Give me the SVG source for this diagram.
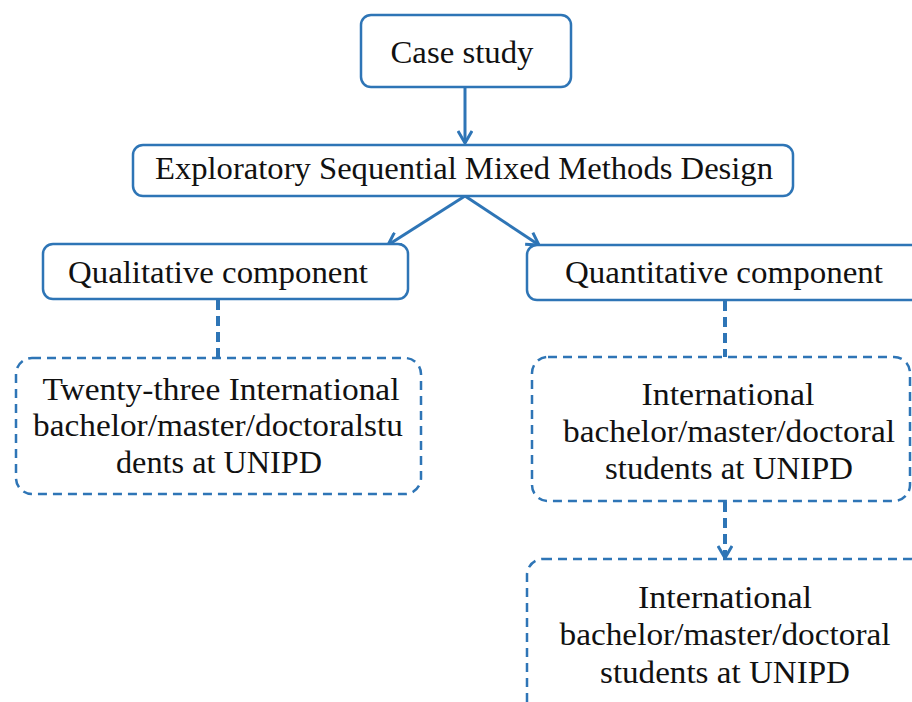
<svg xmlns="http://www.w3.org/2000/svg" width="912" height="702" viewBox="0 0 912 702">
  <style>
    .box { fill: #ffffff; stroke: #2e75b6; stroke-width: 2.5; }
    .dbox { fill: #ffffff; stroke: #2e75b6; stroke-width: 2.5; stroke-dasharray: 9 6; }
    .link { fill: none; stroke: #2e75b6; stroke-width: 3; }
    .dlink { fill: none; stroke: #2e75b6; stroke-width: 4; stroke-dasharray: 10 6; }
    .lbl { font-size: 31px; fill: #111111; text-anchor: middle; }
  </style>
  <defs>
    <marker id="chev" viewBox="0 0 16 16" refX="14" refY="8" markerWidth="16" markerHeight="16" markerUnits="userSpaceOnUse" orient="auto">
      <path d="M2,1 L14,8 L2,15" fill="none" stroke="#2e75b6" stroke-width="3" stroke-linejoin="miter"/>
    </marker>
  </defs>
  <rect width="912" height="702" fill="#ffffff"/>

  <g id="connectors">
    <line class="link" x1="465" y1="87" x2="465" y2="143" marker-end="url(#chev)"/>
    <line class="link" x1="465" y1="196" x2="388" y2="245" marker-end="url(#chev)"/>
    <line class="link" x1="465" y1="196" x2="539" y2="245" marker-end="url(#chev)"/>
    <line class="dlink" x1="218" y1="300" x2="218" y2="358"/>
    <line class="dlink" x1="725" y1="301" x2="725" y2="357"/>
    <line class="dlink" x1="725" y1="502" x2="725" y2="558" marker-end="url(#chev)"/>
  </g>

  <!-- labels set in a Times-metric serif, fitted to each box line -->
  <g font-family="Liberation Serif, serif">
    <g id="case-study">
      <rect class="box" x="361" y="15" width="210" height="72" rx="10"/>
      <text class="lbl" x="462" y="63" textLength="143" lengthAdjust="spacingAndGlyphs">Case study</text>
    </g>

    <g id="design">
      <rect class="box" x="133" y="145" width="660" height="51" rx="10"/>
      <text class="lbl" x="464" y="179" textLength="618" lengthAdjust="spacingAndGlyphs">Exploratory Sequential Mixed Methods Design</text>
    </g>

    <g id="qualitative">
      <rect class="box" x="43" y="244" width="365" height="55" rx="10"/>
      <text class="lbl" x="218" y="283" textLength="300" lengthAdjust="spacingAndGlyphs">Qualitative component</text>
    </g>

    <g id="quantitative">
      <rect class="box" x="527" y="245" width="420" height="55" rx="10"/>
      <text class="lbl" x="724" y="283" textLength="318" lengthAdjust="spacingAndGlyphs">Quantitative component</text>
    </g>

    <g id="qual-sample">
      <rect class="dbox" x="16" y="358" width="405" height="136" rx="16"/>
      <text class="lbl" x="221" y="400" textLength="357" lengthAdjust="spacingAndGlyphs">Twenty-three International</text>
      <text class="lbl" x="218" y="436" textLength="370" lengthAdjust="spacingAndGlyphs">bachelor/master/doctoralstu</text>
      <text class="lbl" x="219" y="473" textLength="206" lengthAdjust="spacingAndGlyphs">dents at UNIPD</text>
    </g>

    <g id="quant-sample">
      <rect class="dbox" x="532" y="357" width="378" height="144" rx="16"/>
      <text class="lbl" x="728" y="405" textLength="173" lengthAdjust="spacingAndGlyphs">International</text>
      <text class="lbl" x="729" y="442" textLength="332" lengthAdjust="spacingAndGlyphs">bachelor/master/doctoral</text>
      <text class="lbl" x="729" y="479" textLength="248" lengthAdjust="spacingAndGlyphs">students at UNIPD</text>
    </g>

    <g id="quant-sample-2">
      <rect class="dbox" x="527" y="559" width="400" height="170" rx="16"/>
      <text class="lbl" x="725" y="608" textLength="174" lengthAdjust="spacingAndGlyphs">International</text>
      <text class="lbl" x="725" y="645" textLength="331" lengthAdjust="spacingAndGlyphs">bachelor/master/doctoral</text>
      <text class="lbl" x="725" y="683" textLength="250" lengthAdjust="spacingAndGlyphs">students at UNIPD</text>
    </g>
  </g>
</svg>
